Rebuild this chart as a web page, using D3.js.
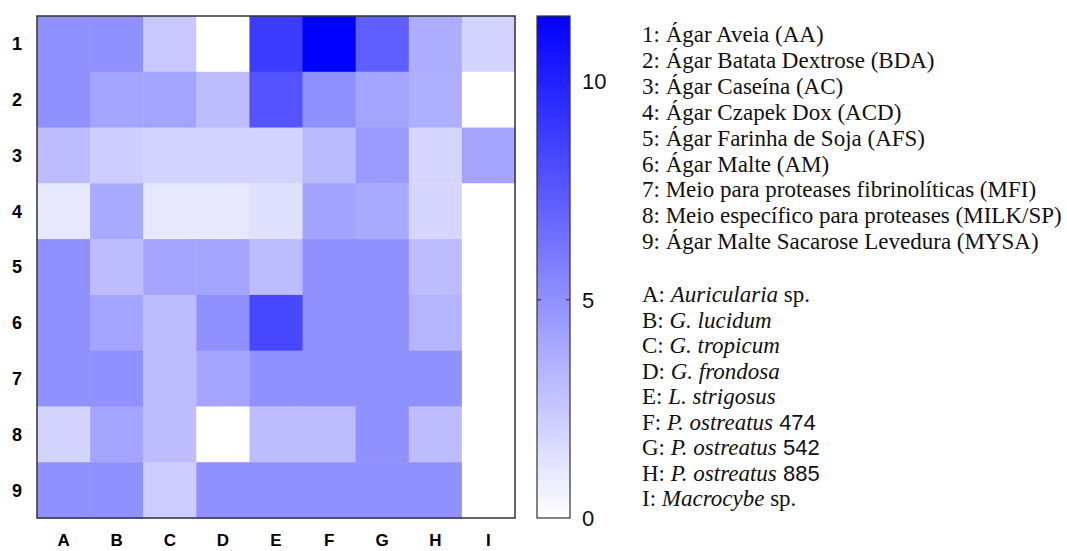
<!DOCTYPE html>
<html>
<head>
<meta charset="utf-8">
<script src="https://cdn.jsdelivr.net/npm/d3@7"></script>
<style>
  body { margin: 0; background: #fff; }
  svg { display: block; }
</style>
</head>
<body>
<div id="chart"></div>
<script>
// Rows (media) and columns (fungi)
var rows = ["1", "2", "3", "4", "5", "6", "7", "8", "9"];
var cols = ["A", "B", "C", "D", "E", "F", "G", "H", "I"];

var row1 = [5.0, 5.0, 2.5, 0.0, 8.8, 11.5, 7.2, 3.7, 2.0];
var row2 = [5.0, 4.1, 4.1, 3.0, 7.7, 5.0, 4.1, 3.6, 0.0];
var row3 = [3.0, 2.3, 2.0, 2.0, 2.0, 3.1, 4.5, 1.9, 4.1];
var row4 = [1.1, 3.9, 1.1, 1.1, 1.4, 4.2, 3.9, 1.9, 0.0];
var row5 = [5.0, 3.0, 4.1, 4.1, 3.0, 5.0, 5.0, 3.0, 0.0];
var row6 = [5.0, 4.1, 3.0, 5.0, 8.3, 5.0, 5.0, 3.4, 0.0];
var row7 = [5.0, 5.0, 3.0, 4.1, 5.0, 5.0, 5.0, 5.0, 0.0];
var row8 = [2.0, 4.1, 3.0, 0.0, 3.0, 3.0, 5.0, 3.0, 0.0];
var row9 = [5.0, 5.0, 2.3, 5.0, 5.0, 5.0, 5.0, 5.0, 0.0];
var values = [row1, row2, row3, row4, row5, row6, row7, row8, row9];

// Colour bar
var colorMin = 0, colorMax = 11.5;
var colorTicks = [0, 5, 10];

// Legend texts
var mediaLegend = [
  "1: Ágar Aveia (AA)",
  "2: Ágar Batata Dextrose (BDA)",
  "3: Ágar Caseína (AC)",
  "4: Ágar Czapek Dox (ACD)",
  "5: Ágar Farinha de Soja (AFS)",
  "6: Ágar Malte (AM)",
  "7: Meio para proteases fibrinolíticas (MFI)",
  "8: Meio específico para proteases (MILK/SP)",
  "9: Ágar Malte Sacarose Levedura (MYSA)"
];
// [prefix, italic name, suffix]
var fungiLegend = [
  ["A: ", "Auricularia", " sp."],
  ["B: ", "G. lucidum", ""],
  ["C: ", "G. tropicum", ""],
  ["D: ", "G. frondosa", ""],
  ["E: ", "L. strigosus", ""],
  ["F: ", "P. ostreatus", " 474"],
  ["G: ", "P. ostreatus", " 542"],
  ["H: ", "P. ostreatus", " 885"],
  ["I: ", "Macrocybe", " sp."]
];

var W = 1067, H = 551;
var grid = { left: 37, top: 16, right: 515, bottom: 518 };

var svg = d3.select("#chart").append("svg")
  .attr("width", W)
  .attr("height", H);

var x = d3.scaleBand().domain(cols).range([grid.left, grid.right]);
var y = d3.scaleBand().domain(rows).range([grid.top, grid.bottom]);
var color = d3.scaleLinear().domain([colorMin, colorMax]).range(["#ffffff", "#0000ff"]);

// Cells
var cells = [];
values.forEach(function (r, i) {
  r.forEach(function (v, j) {
    cells.push({ row: rows[i], col: cols[j], value: v });
  });
});

svg.append("g")
  .selectAll("rect")
  .data(cells)
  .enter()
  .append("rect")
  .attr("x", function (d) { return x(d.col); })
  .attr("y", function (d) { return y(d.row); })
  .attr("width", x.bandwidth() + 0.5)
  .attr("height", y.bandwidth() + 0.5)
  .attr("fill", function (d) { return color(d.value); });

// Frame around the grid
svg.append("rect")
  .attr("x", grid.left)
  .attr("y", grid.top)
  .attr("width", grid.right - grid.left)
  .attr("height", grid.bottom - grid.top)
  .attr("fill", "none")
  .attr("stroke", "#333")
  .attr("stroke-width", 1.5);

var sans = "Liberation Sans, Arial, sans-serif";
var serif = "Liberation Serif, Times New Roman, serif";

// Row labels
svg.append("g")
  .selectAll("text")
  .data(rows)
  .enter()
  .append("text")
  .attr("x", 17)
  .attr("y", function (d) { return y(d) + y.bandwidth() / 2; })
  .attr("dy", "0.36em")
  .attr("text-anchor", "middle")
  .style("font-family", sans)
  .style("font-weight", "bold")
  .style("font-size", "18px")
  .text(function (d) { return d; });

// Column labels, close to the bottom edge like the original
svg.append("g")
  .selectAll("text")
  .data(cols)
  .enter()
  .append("text")
  .attr("x", function (d) { return x(d) + x.bandwidth() / 2; })
  .attr("y", 546)
  .attr("text-anchor", "middle")
  .style("font-family", sans)
  .style("font-weight", "bold")
  .style("font-size", "17px")
  .text(function (d) { return d; });

// Colour bar
var bar = { left: 537, right: 570, top: 16, bottom: 518 };
var cy = d3.scaleLinear().domain([colorMin, colorMax]).range([bar.bottom, bar.top]);

var defs = svg.append("defs");
var grad = defs.append("linearGradient")
  .attr("id", "cbar")
  .attr("x1", 0).attr("y1", 1)
  .attr("x2", 0).attr("y2", 0);
grad.append("stop").attr("offset", "0%").attr("stop-color", color(colorMin));
grad.append("stop").attr("offset", "100%").attr("stop-color", color(colorMax));

svg.append("rect")
  .attr("x", bar.left)
  .attr("y", bar.top)
  .attr("width", bar.right - bar.left)
  .attr("height", bar.bottom - bar.top)
  .attr("fill", "url(#cbar)")
  .attr("stroke", "#333")
  .attr("stroke-width", 1.2);

// Small tick marks on both inner edges
var tickG = svg.append("g");
colorTicks.filter(function (t) { return t > colorMin; }).forEach(function (t) {
  tickG.append("line")
    .attr("x1", bar.left).attr("x2", bar.left + 4)
    .attr("y1", cy(t)).attr("y2", cy(t))
    .attr("stroke", "#333").attr("stroke-width", 1.2);
  tickG.append("line")
    .attr("x1", bar.right - 4).attr("x2", bar.right)
    .attr("y1", cy(t)).attr("y2", cy(t))
    .attr("stroke", "#333").attr("stroke-width", 1.2);
});

svg.append("g")
  .selectAll("text")
  .data(colorTicks)
  .enter()
  .append("text")
  .attr("x", 582)
  .attr("y", function (d) { return cy(d); })
  .attr("dy", "0.36em")
  .style("font-family", sans)
  .style("font-size", "22px")
  .style("fill", "#111")
  .text(function (d) { return d; });

// Legend: media
var legendX = 642;

svg.append("g")
  .selectAll("text")
  .data(mediaLegend)
  .enter()
  .append("text")
  .attr("x", legendX)
  .attr("y", function (d, i) { return 34 + i * 25.9; })
  .attr("dy", "0.35em")
  .style("font-family", serif)
  .style("font-size", "23px")
  .style("fill", "#111")
  .text(function (d) { return d; });

// Legend: fungi
var fungiText = svg.append("g")
  .selectAll("text")
  .data(fungiLegend)
  .enter()
  .append("text")
  .attr("x", legendX)
  .attr("y", function (d, i) { return 294 + i * 25.5; })
  .attr("dy", "0.35em")
  .style("font-family", serif)
  .style("font-size", "23px")
  .style("fill", "#111");

fungiText.append("tspan").text(function (d) { return d[0]; });
fungiText.append("tspan").style("font-style", "italic").text(function (d) { return d[1]; });
fungiText.append("tspan")
  .style("font-family", function (d) { return /\d/.test(d[2]) ? sans : serif; })
  .style("font-size", function (d) { return /\d/.test(d[2]) ? "22px" : "23px"; })
  .text(function (d) { return d[2]; });
</script>
</body>
</html>
